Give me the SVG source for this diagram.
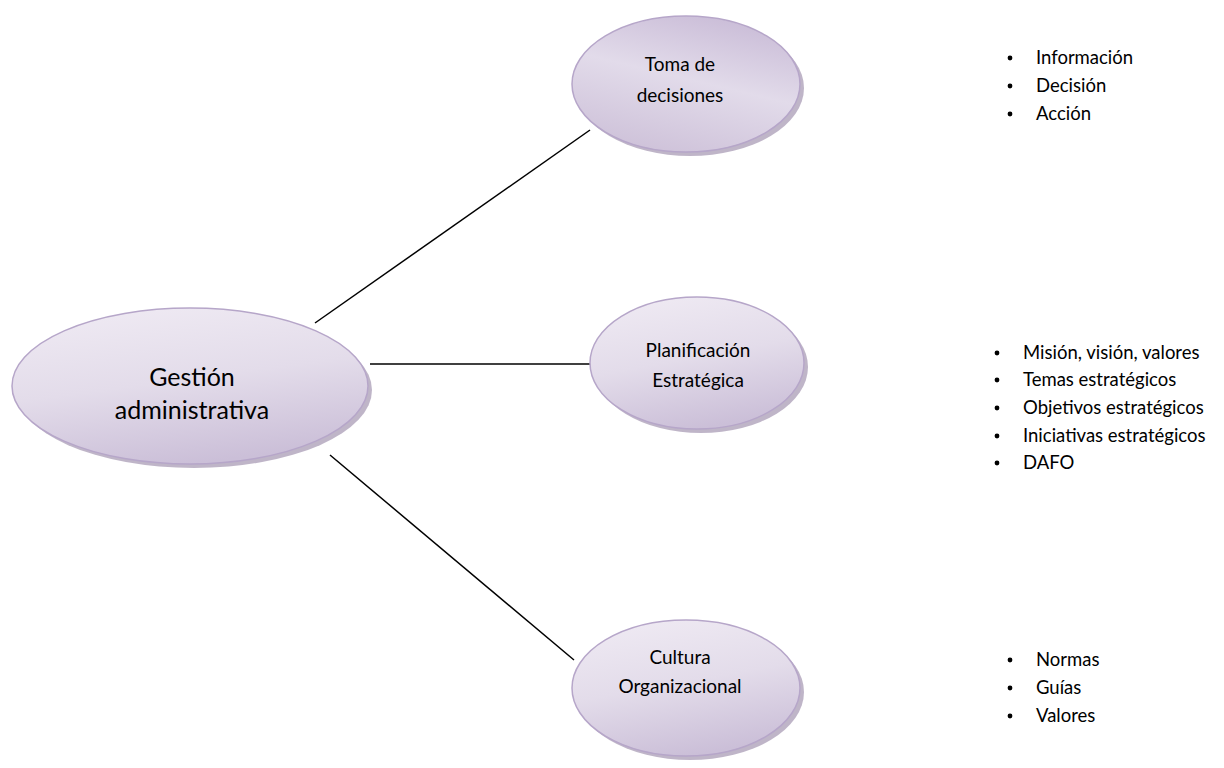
<svg xmlns="http://www.w3.org/2000/svg" width="1224" height="768" viewBox="0 0 1224 768">
<defs>
<linearGradient id="g" x1="0.2" y1="0" x2="0.5" y2="1">
<stop offset="0" stop-color="#efeaf3"/>
<stop offset="0.5" stop-color="#e3dcea"/>
<stop offset="1" stop-color="#cbbfd8"/>
</linearGradient>
<linearGradient id="g2" x1="0.8" y1="0" x2="0.4" y2="1">
<stop offset="0" stop-color="#c8bad6"/>
<stop offset="0.5" stop-color="#e2dbea"/>
<stop offset="1" stop-color="#cfc3da"/>
</linearGradient>
</defs>
<style>
.sh{fill:#a99cb5;opacity:0.75}
.el{fill:url(#g);stroke:#b6a6c9;stroke-width:1.5}
.el2{fill:url(#g2);stroke:#b6a6c9;stroke-width:1.5}
.t{font-family:Lato,"Open Sans",sans-serif;fill:#000;text-anchor:middle}
.b{font-family:Lato,"Open Sans",sans-serif;fill:#000;font-size:18.5px}
.c{stroke:#000;stroke-width:1.5;fill:none}
</style>
<rect width="1224" height="768" fill="#fff"/>
<g id="connectors">
<line class="c" x1="315" y1="323" x2="590" y2="130"/>
<line class="c" x1="370" y1="364" x2="591" y2="364"/>
<line class="c" x1="330" y1="455" x2="574" y2="660"/>
</g>
<g id="gestion">
<ellipse class="sh" cx="194" cy="390" rx="178" ry="78"/>
<ellipse class="el" cx="190" cy="386" rx="178" ry="78"/>
<text class="t" font-size="25" x="192" y="386">Gestión</text>
<text class="t" font-size="25" x="192" y="419">administrativa</text>
</g>
<g id="toma">
<ellipse class="sh" cx="690" cy="88" rx="114" ry="68"/>
<ellipse class="el2" cx="686" cy="84" rx="114" ry="68"/>
<text class="t" font-size="19" x="680" y="71">Toma de</text>
<text class="t" font-size="19" x="680" y="102">decisiones</text>
</g>
<g id="planificacion">
<ellipse class="sh" cx="701" cy="367" rx="107" ry="66"/>
<ellipse class="el" cx="697" cy="363" rx="107" ry="66"/>
<text class="t" font-size="19" x="698" y="357">Planificación</text>
<text class="t" font-size="19" x="698" y="387">Estratégica</text>
</g>
<g id="cultura">
<ellipse class="sh" cx="690" cy="692" rx="114" ry="68"/>
<ellipse class="el" cx="686" cy="688" rx="114" ry="68"/>
<text class="t" font-size="19" x="680" y="664">Cultura</text>
<text class="t" font-size="19" x="680" y="693">Organizacional</text>
</g>
<g id="list1">
<circle cx="1010" cy="58" r="2.4"/><text class="b" x="1036" y="64">Información</text>
<circle cx="1010" cy="86" r="2.4"/><text class="b" x="1036" y="92">Decisión</text>
<circle cx="1010" cy="114" r="2.4"/><text class="b" x="1036" y="120">Acción</text>
</g>
<g id="list2">
<circle cx="997" cy="353" r="2.4"/><text class="b" x="1023" y="359">Misión, visión, valores</text>
<circle cx="997" cy="380" r="2.4"/><text class="b" x="1023" y="386">Temas estratégicos</text>
<circle cx="997" cy="408" r="2.4"/><text class="b" x="1023" y="414">Objetivos estratégicos</text>
<circle cx="997" cy="436" r="2.4"/><text class="b" x="1023" y="442">Iniciativas estratégicos</text>
<circle cx="997" cy="463" r="2.4"/><text class="b" x="1023" y="469">DAFO</text>
</g>
<g id="list3">
<circle cx="1010" cy="660" r="2.4"/><text class="b" x="1036" y="666">Normas</text>
<circle cx="1010" cy="688" r="2.4"/><text class="b" x="1036" y="694">Guías</text>
<circle cx="1010" cy="716" r="2.4"/><text class="b" x="1036" y="722">Valores</text>
</g>
</svg>
